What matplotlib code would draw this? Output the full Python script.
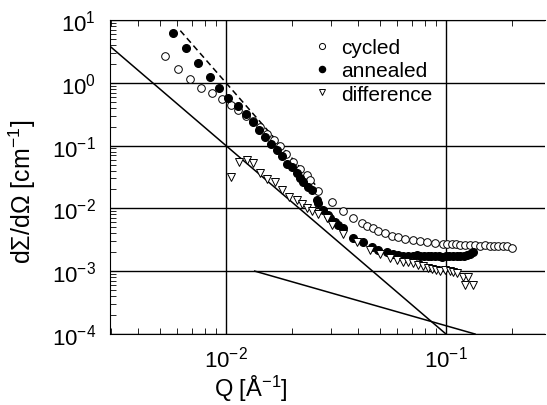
import numpy as np
import matplotlib.pyplot as plt

plt.rcParams['font.family'] = ['Liberation Sans', 'DejaVu Sans']
plt.rcParams['mathtext.fontset'] = 'custom'
plt.rcParams['mathtext.rm'] = 'Liberation Sans'
plt.rcParams['mathtext.it'] = 'Liberation Sans:italic'

# cycled sample (open circles)
q_cycled = [0.00528, 0.00603, 0.00686, 0.00769, 0.00861, 0.00956, 0.0105, 0.01138, 0.0123,
            0.01327, 0.01428, 0.01536, 0.01652, 0.01758, 0.01883, 0.0202, 0.0217, 0.0233,
            0.0241, 0.0263, 0.0302, 0.0339, 0.0377, 0.0414, 0.0436, 0.0465, 0.0492, 0.0528,
            0.0567, 0.0607, 0.0652, 0.0706, 0.0762, 0.0817, 0.0891, 0.0972, 0.1015, 0.1062,
            0.111, 0.1158, 0.122, 0.1286, 0.135, 0.1428, 0.150, 0.1585, 0.165, 0.173, 0.181,
            0.189, 0.199]
i_cycled = [2.71, 1.63, 1.13, 0.833, 0.676, 0.551, 0.436, 0.369, 0.296,
            0.249, 0.197, 0.155, 0.122, 0.0982, 0.0746, 0.0551, 0.0431, 0.0338,
            0.0281, 0.0188, 0.01245, 0.00906, 0.00711, 0.00593, 0.00531, 0.00494, 0.00443, 0.00401,
            0.00369, 0.00347, 0.00322, 0.00311, 0.00303, 0.00289, 0.00278, 0.00271, 0.00274, 0.00268,
            0.00270, 0.00261, 0.00264, 0.00261, 0.00258, 0.00256, 0.00257, 0.00254, 0.00252, 0.00250, 0.00251,
            0.00249, 0.00232]

# annealed sample (filled circles)
q_annealed = [0.00576, 0.00656, 0.00748, 0.00846, 0.00933, 0.01024, 0.0113, 0.0123, 0.0132,
              0.01417, 0.01503, 0.0160, 0.0170, 0.0179, 0.0190, 0.0199, 0.0210, 0.0217,
              0.0225, 0.0237, 0.0245, 0.0259, 0.0263, 0.0277, 0.0292, 0.0297, 0.0313, 0.0324,
              0.0341, 0.0379, 0.0421, 0.0460, 0.0492, 0.0537, 0.0576, 0.0608, 0.0639, 0.0672,
              0.0710, 0.0738, 0.0766, 0.0795, 0.0826, 0.0858, 0.0891, 0.0925, 0.0961, 0.0998,
              0.1036, 0.1076, 0.1118, 0.1161, 0.1205, 0.1240, 0.1285, 0.133]
i_annealed = [6.22, 3.59, 2.08, 1.23, 0.824, 0.578, 0.426, 0.314, 0.238,
              0.179, 0.137, 0.105, 0.0842, 0.0676, 0.0518, 0.0459, 0.0360, 0.0307,
              0.0265, 0.0221, 0.0195, 0.0135, 0.0120, 0.0094, 0.00783, 0.00694, 0.00615, 0.00543,
              0.00494, 0.00343, 0.00289, 0.00247, 0.00218, 0.00200, 0.00186, 0.00180, 0.00177, 0.00176,
              0.00175, 0.00178, 0.00174, 0.00176, 0.00173, 0.00175, 0.00172, 0.00174, 0.00171, 0.00173,
              0.00175, 0.00172, 0.00174, 0.00176, 0.00174, 0.00178, 0.00186, 0.00200]

# difference (open down triangles)
q_diff = [0.01054, 0.01149, 0.0124, 0.0133, 0.0143, 0.0153, 0.0167, 0.0180, 0.0194,
          0.0210, 0.0221, 0.0233, 0.0246, 0.0262, 0.0287, 0.0302, 0.0341, 0.0393,
          0.0452, 0.0501, 0.0556, 0.0600, 0.0640, 0.0675, 0.0710, 0.0750, 0.0788, 0.0825,
          0.0861, 0.0900, 0.0939, 0.0990, 0.1043, 0.108, 0.112, 0.120, 0.122, 0.126, 0.133]
i_diff = [0.0322, 0.0543, 0.0593, 0.0537, 0.0360, 0.0294, 0.0259, 0.0195, 0.0152,
          0.0134, 0.01157, 0.0100, 0.00896, 0.00803, 0.00694, 0.00543, 0.00387, 0.00296,
          0.00218, 0.00186, 0.00161, 0.00150, 0.00142, 0.00138, 0.00134, 0.00126, 0.00119, 0.00114,
          0.00109, 0.00104, 0.00101, 0.00103, 0.00099, 0.00096, 0.00093, 0.00080, 0.00061, 0.00082, 0.00061]

# q ranges of the power-law guide lines
q_steep = [0.003, 0.1]
q_dashed = [0.0062, 0.026]
q_flat = [0.0135, 0.1355]

fig = plt.figure(figsize=(5.47, 4.06), dpi=100)
ax = fig.add_axes([110/547, 71/406, 435/547, 314/406])

ax.plot(q_steep, 1e-7 * np.array(q_steep) ** -3.0, color='black', lw=1.1)
ax.plot(q_dashed, 1e-8 * np.array(q_dashed) ** -4.0, color='black', lw=1.1, ls=(0, (4, 2.5)))
ax.plot(q_flat, 1.355e-5 / np.array(q_flat), color='black', lw=1.1)

ax.plot(q_cycled, i_cycled, 'o', mfc='white', mec='black', mew=0.7, ms=5.5, label='cycled', zorder=3)
ax.plot(q_annealed, i_annealed, 'o', mfc='black', mec='black', ms=5.5, label='annealed', zorder=4)
ax.plot(q_diff, i_diff, 'v', mfc='white', mec='black', mew=0.7, ms=6, label='difference', zorder=5)

ax.set_xscale('log')
ax.set_yscale('log')
ax.set_xlim(0.00297, 0.282)
ax.set_ylim(1e-4, 1e1)
ax.grid(True, which='major', color='black', lw=1.0)
ax.spines['right'].set_visible(False)
ax.tick_params(which='both', direction='in', top=True, right=False, labelsize=16)
ax.tick_params(which='major', length=0)
ax.tick_params(which='minor', length=4)
ax.tick_params(axis='y', pad=10)
ax.tick_params(axis='x', pad=8)

ax.set_xlabel('Q [Å$^{-1}$]', fontsize=17)
ax.set_ylabel('dΣ/dΩ [cm$^{-1}$]', fontsize=18)
ax.xaxis.set_label_coords(0.324, -0.125)
ax.yaxis.set_label_coords(-0.165, 0.455)

ax.legend(loc='upper left', bbox_to_anchor=(0.445, 0.975), frameon=False, fontsize=15,
          markerscale=0.8, handlelength=0.8, handletextpad=0.5, labelspacing=0.2, borderpad=0)

fig.savefig('out.png', dpi=100)
